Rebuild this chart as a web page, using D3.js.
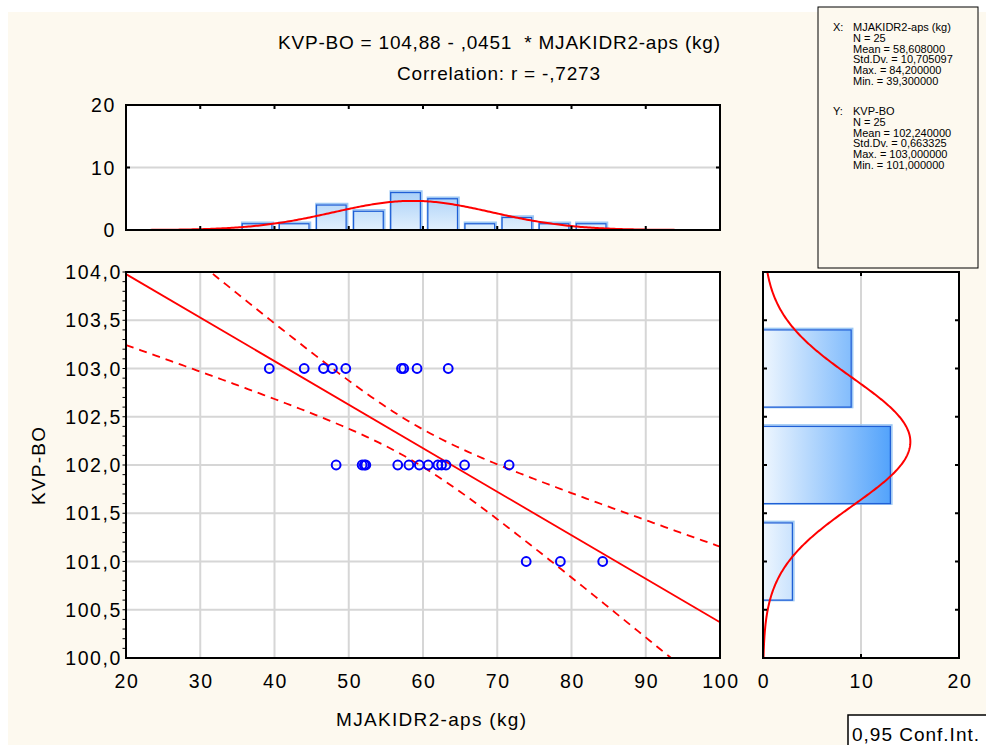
<!DOCTYPE html>
<html><head><meta charset="utf-8">
<script src="https://cdn.jsdelivr.net/npm/d3@7"></script>
<style>
body{margin:0;background:#fff}
svg text{font-family:"Liberation Sans",Arial,sans-serif;fill:#000;white-space:pre}
</style>
</head><body><svg id="c" width="986" height="745"></svg>
<script>
// ---------- data ----------
const xValues = [39.3,44.0,46.6,47.8,49.6,57.1,57.4,59.2,63.4,
                 48.3,51.8,52.1,52.3,56.6,58.1,59.5,60.7,62.0,62.5,63.1,65.6,71.6,
                 73.9,78.5,84.2];
const yValues = [103,103,103,103,103,103,103,103,103,
                 102,102,102,102,102,102,102,102,102,102,102,102,102,
                 101,101,101];
const xTicks = [20,30,40,50,60,70,80,90,100];
const yTicks = [100,100.5,101,101.5,102,102.5,103,103.5,104];
const topHistEdges = [35,40,45,50,55,60,65,70,75,80,85];
const topHistCounts = [1,1,4,3,6,5,1,2,1,1];
const rightHistCenters = [101,102,103];
const rightHistCounts = [3,13,9];
const histTicks = [0,10,20];
const titleLines = ["KVP-BO = 104,88 - ,0451  * MJAKIDR2-aps (kg)", "Correlation: r = -,7273"];
const intercept = 104.88, slope = -0.0451;
const xName = "MJAKIDR2-aps (kg)", yName = "KVP-BO";
const statsXHead = "MJAKIDR2-aps (kg)";
const statsX = ["N = 25","Mean = 58,608000","Std.Dv. = 10,705097","Max. = 84,200000","Min. = 39,300000"];
const statsYHead = "KVP-BO";
const statsY = ["N = 25","Mean = 102,240000","Std.Dv. = 0,663325","Max. = 103,000000","Min. = 101,000000"];
const legendText = "0,95 Conf.Int.";

// ---------- setup ----------
const svg = d3.select("#c");
const loc = d3.formatLocale({decimal:",",thousands:"",grouping:[3],currency:["",""]});
const f1 = loc.format(".1f");
const cream = "#fdf9ef", gridC = "#d6d6d6";

svg.append("rect").attr("x",8).attr("y",12).attr("width",978).attr("height",733).attr("fill",cream);

const x = d3.scaleLinear([20,100],[126,720]);
const y = d3.scaleLinear([100,104],[658,272]);
const hy = d3.scaleLinear([0,20],[230,105]);
const hx = d3.scaleLinear([0,20],[763,959]);

const defs = svg.append("defs");
function clip(id,x0,y0,w,h){defs.append("clipPath").attr("id",id).append("rect").attr("x",x0).attr("y",y0).attr("width",w).attr("height",h);}
clip("cm",126,272,594,386); clip("ct",126,105,594,125); clip("cr",763,272,196,386);

const gv = defs.append("linearGradient").attr("id","gv").attr("gradientUnits","userSpaceOnUse")
  .attr("x1",0).attr("y1",hy(0)).attr("x2",0).attr("y2",hy(6));
gv.append("stop").attr("offset",0).attr("stop-color","#e2f0fd");
gv.append("stop").attr("offset",1).attr("stop-color","#a9d0f8");
const gh = defs.append("linearGradient").attr("id","gh").attr("gradientUnits","userSpaceOnUse")
  .attr("x1",hx(0)).attr("y1",0).attr("x2",hx(13)).attr("y2",0);
gh.append("stop").attr("offset",0).attr("stop-color","#eef6fe");
gh.append("stop").attr("offset",1).attr("stop-color","#53a3fb");

// ---------- plot backgrounds ----------
[[126,105,594,125],[126,272,594,386],[763,272,196,386]].forEach(r=>
  svg.append("rect").attr("x",r[0]).attr("y",r[1]).attr("width",r[2]).attr("height",r[3]).attr("fill","#fff"));

// ---------- grids ----------
const gg = svg.append("g").attr("stroke",gridC).attr("stroke-width",2);
xTicks.slice(1,-1).forEach(t=>gg.append("line").attr("x1",x(t)).attr("x2",x(t)).attr("y1",272).attr("y2",658));
yTicks.slice(1,-1).forEach(t=>gg.append("line").attr("y1",y(t)).attr("y2",y(t)).attr("x1",126).attr("x2",720));
gg.append("line").attr("x1",126).attr("x2",720).attr("y1",hy(10)).attr("y2",hy(10));
gg.append("line").attr("x1",hx(10)).attr("x2",hx(10)).attr("y1",272).attr("y2",658);

// ---------- top histogram ----------
const gt = svg.append("g").attr("clip-path","url(#ct)");
const topBins = topHistCounts.map((c,i)=>({lo:topHistEdges[i],hi:topHistEdges[i+1],c}));
const pad = 0.1;
topBins.forEach(b=>{
  const w=b.hi-b.lo, x0=x(b.lo+w*pad+0.15), x1=x(b.hi-w*pad+0.15);
  gt.append("rect").attr("x",x0-0.5).attr("y",hy(b.c)-1.5).attr("width",x1-x0+2).attr("height",hy(0)-hy(b.c)+1.5)
    .attr("fill","none").attr("stroke","#9cc8f4").attr("stroke-width",1.5);
  gt.append("rect").attr("x",x0).attr("y",hy(b.c)).attr("width",x1-x0).attr("height",hy(0)-hy(b.c))
    .attr("fill","url(#gv)").attr("stroke","#1f5fd6").attr("stroke-width",1.3);
});
const mx = d3.mean(xValues), sx = d3.deviation(xValues), n = xValues.length;
const my = d3.mean(yValues), sy = d3.deviation(yValues);
const pdf = (v,m,s)=>Math.exp(-0.5*((v-m)/s)**2)/(s*Math.sqrt(2*Math.PI));
const binW = topHistEdges[1]-topHistEdges[0];
const topCurve = d3.range(20,100.01,0.25).map(v=>[x(v),hy(n*binW*pdf(v,mx,sx))]);
gt.append("path").attr("d",d3.line()(topCurve)).attr("fill","none").attr("stroke","#ff0000").attr("stroke-width",2);

// ---------- right histogram ----------
const gr = svg.append("g").attr("clip-path","url(#cr)");
rightHistCenters.forEach((cv,i)=>{
  const c=rightHistCounts[i], y0=y(cv+0.4), y1=y(cv-0.4);
  gr.append("rect").attr("x",hx(0)-2).attr("y",y0-1.5).attr("width",hx(c)-hx(0)+3.5).attr("height",y1-y0+2)
    .attr("fill","none").attr("stroke","#9cc8f4").attr("stroke-width",1.5);
  gr.append("rect").attr("x",hx(0)).attr("y",y0).attr("width",hx(c)-hx(0)).attr("height",y1-y0)
    .attr("fill","url(#gh)").attr("stroke","#1f5fd6").attr("stroke-width",1.3);
});
const rightCurve = d3.range(100,104.001,0.01).map(v=>[hx(n*1*pdf(v,my,sy)),y(v)]);
gr.append("path").attr("d",d3.line()(rightCurve)).attr("fill","none").attr("stroke","#ff0000").attr("stroke-width",2);

// ---------- main scatter ----------
const gm = svg.append("g").attr("clip-path","url(#cm)");
const Sxx = d3.sum(xValues,v=>(v-mx)**2);
const sRes = Math.sqrt(d3.sum(xValues,(v,i)=>(yValues[i]-(intercept+slope*v))**2)/(n-2));
const tCrit = 2.0687;
const xs = d3.range(20,100.01,0.5);
const band = s=>xs.map(v=>[x(v),y(intercept+slope*v + s*tCrit*sRes*Math.sqrt(1/n+(v-mx)**2/Sxx))]);
gm.append("path").attr("d",d3.line()(band(1))).attr("fill","none").attr("stroke","#ff0000").attr("stroke-width",1.8).attr("stroke-dasharray","8,6");
gm.append("path").attr("d",d3.line()(band(-1))).attr("fill","none").attr("stroke","#ff0000").attr("stroke-width",1.8).attr("stroke-dasharray","8,6");
gm.append("line").attr("x1",x(20)).attr("y1",y(intercept+slope*20)).attr("x2",x(100)).attr("y2",y(intercept+slope*100))
  .attr("stroke","#ff0000").attr("stroke-width",1.8);
xValues.forEach((v,i)=>gm.append("circle").attr("cx",x(v)).attr("cy",y(yValues[i])).attr("r",4.4)
  .attr("fill","none").attr("stroke","#0000ff").attr("stroke-width",2));

// ---------- frames & ticks ----------
const fr = svg.append("g").attr("fill","none").attr("stroke","#000").attr("stroke-width",2);
fr.append("rect").attr("x",126).attr("y",105).attr("width",594).attr("height",125);
fr.append("rect").attr("x",126).attr("y",272).attr("width",594).attr("height",386);
fr.append("rect").attr("x",763).attr("y",272).attr("width",196).attr("height",386);
const tk = svg.append("g").attr("stroke","#000").attr("stroke-width",2);
xTicks.slice(1,-1).forEach(t=>{
  tk.append("line").attr("x1",x(t)).attr("x2",x(t)).attr("y1",105).attr("y2",109);
  tk.append("line").attr("x1",x(t)).attr("x2",x(t)).attr("y1",230).attr("y2",226);
});
tk.append("line").attr("x1",126).attr("x2",130).attr("y1",hy(10)).attr("y2",hy(10));
tk.append("line").attr("x1",720).attr("x2",716).attr("y1",hy(10)).attr("y2",hy(10));
yTicks.slice(1,-1).forEach(t=>{
  tk.append("line").attr("x1",763).attr("x2",767).attr("y1",y(t)).attr("y2",y(t));
  tk.append("line").attr("x1",959).attr("x2",955).attr("y1",y(t)).attr("y2",y(t));
});
tk.append("line").attr("x1",hx(10)).attr("x2",hx(10)).attr("y1",272).attr("y2",276);
tk.append("line").attr("x1",hx(10)).attr("x2",hx(10)).attr("y1",658).attr("y2",654);
const minor = svg.append("g").attr("stroke","#000").attr("stroke-width",1);
d3.range(100.1,104,0.1).forEach(t=>minor.append("line").attr("x1",122.5).attr("x2",126).attr("y1",y(t)).attr("y2",y(t)));

// ---------- tick labels ----------
const lab = svg.append("g").style("font-size","19.5px").style("letter-spacing","1.6px");
yTicks.forEach(t=>lab.append("text").attr("x",122).attr("y",y(t)+7).attr("text-anchor","end").text(f1(t)));
xTicks.forEach(t=>lab.append("text").attr("x",x(t)+1).attr("y",688).attr("text-anchor","middle").text(t));
histTicks.forEach(t=>lab.append("text").attr("x",116).attr("y",hy(t)+7).attr("text-anchor","end").text(t));
histTicks.forEach(t=>lab.append("text").attr("x",hx(t)+1).attr("y",688).attr("text-anchor","middle").text(t));

// ---------- titles ----------
svg.append("text").attr("x",278).attr("y",49).style("font-size","19px").attr("textLength",442).attr("lengthAdjust","spacing").text(titleLines[0]);
svg.append("text").attr("x",397).attr("y",80).style("font-size","19px").attr("textLength",203).attr("lengthAdjust","spacing").text(titleLines[1]);
svg.append("text").attr("x",336).attr("y",726).style("font-size","19px").attr("textLength",190).attr("lengthAdjust","spacing").text(xName);
svg.append("text").attr("transform","translate(45,466) rotate(-90)").attr("x",-39).attr("y",0).style("font-size","19px").attr("textLength",78).attr("lengthAdjust","spacing").text(yName);

// ---------- stats box ----------
svg.append("rect").attr("x",818).attr("y",7).attr("width",160).attr("height",261).attr("fill",cream).attr("stroke","#000").attr("stroke-width",1);
const sb = svg.append("g").style("font-size","11px");
function block(label,head,lines,y0){
  sb.append("text").attr("x",833).attr("y",y0).text(label);
  sb.append("text").attr("x",853).attr("y",y0).text(head);
  lines.forEach((l,i)=>sb.append("text").attr("x",853).attr("y",y0+10.8*(i+1)).text(l));
}
block("X:",statsXHead,statsX,31);
block("Y:",statsYHead,statsY,115);

// ---------- legend ----------
svg.append("rect").attr("x",848).attr("y",715).attr("width",150).attr("height",40).attr("fill","#fff").attr("stroke","#000").attr("stroke-width",1.5);
svg.append("text").attr("x",852).attr("y",741).style("font-size","19px").attr("textLength",127).attr("lengthAdjust","spacing").text(legendText);
</script>
</body></html>
